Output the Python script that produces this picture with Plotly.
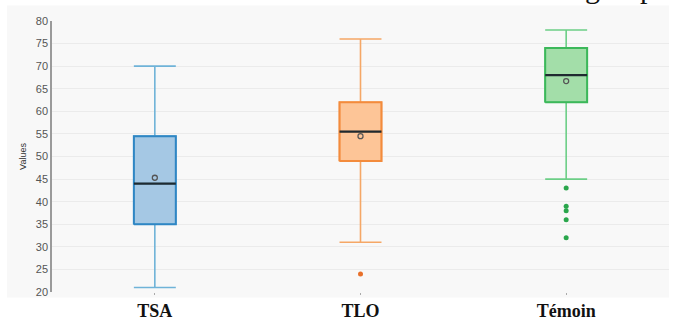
import plotly.graph_objects as go

# Group labels and summary statistics of each distribution
groups = ["TSA", "TLO", "Témoin"]
lower_whisker = [21, 31, 45]
q1 = [35, 49, 62]
median = [44, 55.5, 68]
q3 = [54.5, 62, 74]
upper_whisker = [70, 76, 78]
means = [45.3, 54.5, 66.7]
outliers = [[], [24], [43, 39, 38, 36, 32]]

# Colours per group: fill, box border, whiskers, outlier dots
fills = ["#a5c8e4", "#fdc597", "#a3dea9"]
borders = ["#2f86c4", "#f38b3c", "#3cb85a"]
whiskers = ["#6fb3d8", "#f5a766", "#6cce86"]
dots = ["#2f86c4", "#e8702a", "#2aa64c"]

box_w = 0.204

fig = go.Figure()

for i, g in enumerate(groups):
    fig.add_trace(go.Box(
        x=[i], q1=[q1[i]], median=[median[i]], q3=[q3[i]],
        lowerfence=[lower_whisker[i]], upperfence=[upper_whisker[i]],
        width=box_w, whiskerwidth=1, fillcolor=fills[i],
        line=dict(color=whiskers[i], width=1.6),
        boxpoints=False, hoverinfo="skip", showlegend=False, name=g,
    ))
    x0, x1 = i - box_w / 2, i + box_w / 2
    # box outline in the stronger tone
    fig.add_trace(go.Scatter(
        x=[x0, x1, x1, x0, x0],
        y=[q1[i], q1[i], q3[i], q3[i], q1[i]],
        mode="lines", line=dict(color=borders[i], width=2),
        hoverinfo="skip", showlegend=False,
    ))
    # dark median bar
    fig.add_trace(go.Scatter(
        x=[x0, x1], y=[median[i], median[i]],
        mode="lines", line=dict(color="#1f2a30", width=2.2),
        hoverinfo="skip", showlegend=False,
    ))
    # mean marker
    fig.add_trace(go.Scatter(
        x=[i], y=[means[i]], mode="markers",
        marker=dict(symbol="circle-open", size=5, color="#555555",
                    line=dict(width=1.3)),
        hoverinfo="skip", showlegend=False,
    ))
    # outliers
    if outliers[i]:
        fig.add_trace(go.Scatter(
            x=[i] * len(outliers[i]), y=outliers[i], mode="markers",
            marker=dict(size=5, color=dots[i]),
            hoverinfo="skip", showlegend=False,
        ))

fig.update_layout(
    width=686, height=320,
    margin=dict(l=52, r=17, t=21, b=28, autoexpand=False),
    paper_bgcolor="white",
    plot_bgcolor="rgba(0,0,0,0)",
    shapes=[dict(
        type="rect", xref="paper", yref="paper",
        x0=-0.073, x1=1.0, y0=-0.02, y1=1.057,
        fillcolor="#f8f8f8", line=dict(width=0), layer="below",
    )],
    annotations=[dict(
        text="group", xref="paper", yref="paper",
        x=(583 - 52) / 617, y=1.055, xanchor="left", yanchor="bottom",
        showarrow=False,
        font=dict(family="Liberation Serif", size=30, color="#111111"),
    )],
)

fig.update_xaxes(
    range=[-0.5, 2.5], tickvals=[0, 1, 2], ticktext=groups,
    showgrid=False, zeroline=False, showline=False, automargin=False,
    ticks="outside", ticklen=2, tickcolor="#aaaaaa",
    tickfont=dict(family="Liberation Serif", size=18, color="#111111",
                  weight="bold"),
)
fig.update_yaxes(
    range=[20, 80], dtick=5, automargin=False,
    showgrid=True, gridcolor="#ebebeb", gridwidth=1,
    zeroline=False, showline=True, linecolor="#9a9a9a", linewidth=1.5,
    tickfont=dict(family="Liberation Sans", size=11, color="#555555"),
    title=dict(text="Values", standoff=8,
               font=dict(family="Liberation Sans", size=9, color="#333333")),
)

fig.write_html("out.html")
